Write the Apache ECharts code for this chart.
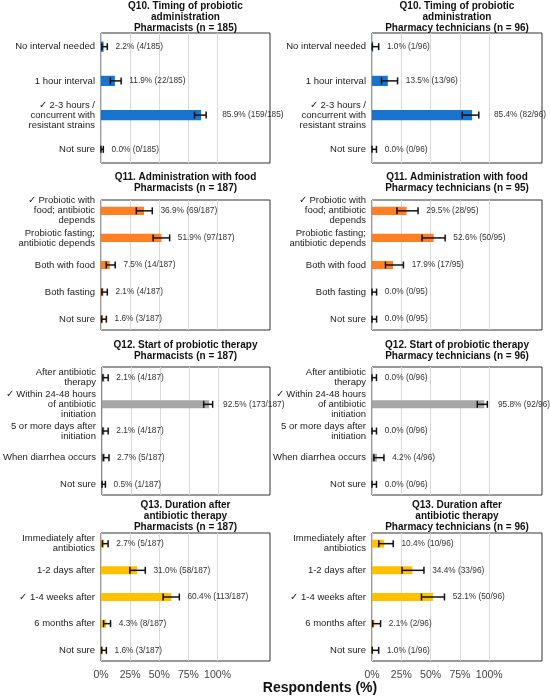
<!DOCTYPE html>
<html>
<head>
<meta charset="utf-8">
<script src="https://cdn.jsdelivr.net/npm/echarts@6/dist/echarts.min.js"></script>
<style>html,body{margin:0;background:#fff}#chart{width:550px;height:699px}</style>
</head>
<body>
<div id="chart"></div>
<script>
// categories
const q10Cats = ['No interval needed', '1 hour interval', '✓ 2-3 hours /\nconcurrent with\nresistant strains', 'Not sure'];
const q11Cats = ['✓ Probiotic with\nfood; antibiotic\ndepends', 'Probiotic fasting;\nantibiotic depends', 'Both with food', 'Both fasting', 'Not sure'];
const q12Cats = ['After antibiotic\ntherapy', '✓ Within 24-48 hours\nof antibiotic\ninitiation', '5 or more days after\ninitiation', 'When diarrhea occurs', 'Not sure'];
const q13Cats = ['Immediately after\nantibiotics', '1-2 days after', '✓ 1-4 weeks after', '6 months after', 'Not sure'];

// percentages, counts, 95% CI bounds
const q10PharmPct = [2.2, 11.9, 85.9, 0.0];
const q10PharmN = [4, 22, 159, 0];
const q10PharmLow = [0.8, 8.0, 80.2, 0];
const q10PharmHigh = [5.4, 17.3, 90.2, 2.0];
const q10TechPct = [1.0, 13.5, 85.4, 0.0];
const q10TechN = [1, 13, 82, 0];
const q10TechLow = [0.2, 8.1, 77.0, 0];
const q10TechHigh = [5.7, 21.8, 91.1, 3.8];

const q11PharmPct = [36.9, 51.9, 7.5, 2.1, 1.6];
const q11PharmN = [69, 97, 14, 4, 3];
const q11PharmLow = [30.3, 44.7, 4.5, 0.8, 0.5];
const q11PharmHigh = [44.0, 58.9, 12.2, 5.4, 4.6];
const q11TechPct = [29.5, 52.6, 17.9, 0.0, 0.0];
const q11TechN = [28, 50, 17, 0, 0];
const q11TechLow = [21.3, 42.7, 11.5, 0, 0];
const q11TechHigh = [39.3, 62.4, 26.8, 3.9, 3.9];

const q12PharmPct = [2.1, 92.5, 2.1, 2.7, 0.5];
const q12PharmN = [4, 173, 4, 5, 1];
const q12PharmLow = [0.8, 87.8, 0.8, 1.2, 0.1];
const q12PharmHigh = [5.4, 95.5, 5.4, 6.1, 3.0];
const q12TechPct = [0.0, 95.8, 0.0, 4.2, 0.0];
const q12TechN = [0, 92, 0, 4, 0];
const q12TechLow = [0, 89.8, 0, 1.6, 0];
const q12TechHigh = [3.8, 98.4, 3.8, 10.2, 3.8];

const q13PharmPct = [2.7, 31.0, 60.4, 4.3, 1.6];
const q13PharmN = [5, 58, 113, 8, 3];
const q13PharmLow = [1.2, 24.8, 53.3, 2.2, 0.5];
const q13PharmHigh = [6.1, 38.0, 67.2, 8.2, 4.6];
const q13TechPct = [10.4, 34.4, 52.1, 2.1, 1.0];
const q13TechN = [10, 33, 50, 2, 1];
const q13TechLow = [5.8, 25.6, 42.2, 0.6, 0.2];
const q13TechHigh = [18.1, 44.3, 61.8, 7.3, 5.7];

const xTicks = [0, 25, 50, 75, 100];

const chart = echarts.init(document.getElementById('chart'));
const font = '"Liberation Sans", Arial, sans-serif';

const panels = [
  {title: 'Q10. Timing of probiotic\nadministration\nPharmacists (n = 185)', cats: q10Cats, pct: q10PharmPct, n: q10PharmN, total: 185, low: q10PharmLow, high: q10PharmHigh, color: '#1874CD'},
  {title: 'Q10. Timing of probiotic\nadministration\nPharmacy technicians (n = 96)', cats: q10Cats, pct: q10TechPct, n: q10TechN, total: 96, low: q10TechLow, high: q10TechHigh, color: '#1874CD'},
  {title: 'Q11. Administration with food\nPharmacists (n = 187)', cats: q11Cats, pct: q11PharmPct, n: q11PharmN, total: 187, low: q11PharmLow, high: q11PharmHigh, color: '#FF7F24'},
  {title: 'Q11. Administration with food\nPharmacy technicians (n = 95)', cats: q11Cats, pct: q11TechPct, n: q11TechN, total: 95, low: q11TechLow, high: q11TechHigh, color: '#FF7F24'},
  {title: 'Q12. Start of probiotic therapy\nPharmacists (n = 187)', cats: q12Cats, pct: q12PharmPct, n: q12PharmN, total: 187, low: q12PharmLow, high: q12PharmHigh, color: '#A6A6A6'},
  {title: 'Q12. Start of probiotic therapy\nPharmacy technicians (n = 96)', cats: q12Cats, pct: q12TechPct, n: q12TechN, total: 96, low: q12TechLow, high: q12TechHigh, color: '#A6A6A6'},
  {title: 'Q13. Duration after\nantibiotic therapy\nPharmacists (n = 187)', cats: q13Cats, pct: q13PharmPct, n: q13PharmN, total: 187, low: q13PharmLow, high: q13PharmHigh, color: '#FFC000'},
  {title: 'Q13. Duration after\nantibiotic therapy\nPharmacy technicians (n = 96)', cats: q13Cats, pct: q13TechPct, n: q13TechN, total: 96, low: q13TechLow, high: q13TechHigh, color: '#FFC000'}
];

// layout
const colLeft = [101, 372];
const colWidth = [169, 170];
const rowTop = [33, 200, 367, 533];
const rowHeight = [130, 130, 128, 128];
const titleTop = [0.5, 172, 340, 500];

const grid = [], xAxis = [], yAxis = [], series = [], graphic = [];

panels.forEach((p, i) => {
  const r = Math.floor(i / 2), c = i % 2;
  grid.push({left: colLeft[c], top: rowTop[r], width: colWidth[c], height: rowHeight[r],
    show: true, borderColor: '#333', borderWidth: 1, backgroundColor: '#fff'});
  xAxis.push({
    gridIndex: i, type: 'value', min: 0, max: 145,
    axisLine: {show: false},
    axisTick: {show: false, customValues: xTicks},
    splitLine: {show: true, lineStyle: {color: '#d9d9d9', width: 1}},
    axisLabel: {show: r === 3, customValues: xTicks, formatter: '{value}%', fontSize: 10.5,
      color: '#444', margin: 9, fontFamily: font}
  });
  yAxis.push({
    gridIndex: i, type: 'value', inverse: true, min: -0.4, max: p.cats.length - 0.6,
    axisLine: {show: false}, axisTick: {show: false}, splitLine: {show: false},
    axisLabel: {customValues: p.cats.map((_, k) => k), formatter: v => p.cats[Math.round(v)],
      fontSize: 9.5, lineHeight: 10, color: '#222', margin: 6, fontFamily: font}
  });
  series.push({
    type: 'custom', xAxisIndex: i, yAxisIndex: i,
    data: p.pct.map((v, k) => [v, k]),
    encode: {x: 0, y: 1},
    renderItem: (params, api) => {
      const s = api.coord([0, api.value(1)]);
      const e = api.coord([api.value(0), api.value(1)]);
      const h = api.size([0, 1])[1] * 0.3;
      return {type: 'rect', shape: {x: s[0], y: s[1] - h / 2, width: e[0] - s[0], height: h},
        style: {fill: p.color}};
    }
  });
  series.push({
    type: 'custom', xAxisIndex: i, yAxisIndex: i,
    data: p.low.map((l, k) => [l, p.high[k], k, p.pct[k].toFixed(1) + '% (' + p.n[k] + '/' + p.total + ')']),
    encode: {x: [0, 1], y: 2},
    z: 3,
    renderItem: (params, api) => {
      const hi = api.value(1);
      const a = api.coord([api.value(0), api.value(2)]);
      const b = api.coord([hi, api.value(2)]);
      // label just past the upper whisker; the large ones sit right of 100%
      const t = api.coord([hi < 80 ? hi + 7 : Math.max(hi + 9, 104), api.value(2)]);
      const cap = 3.5;
      const st = {stroke: '#111', lineWidth: 1.5};
      return {type: 'group', children: [
        {type: 'line', shape: {x1: a[0], y1: a[1], x2: b[0], y2: b[1]}, style: st},
        {type: 'line', shape: {x1: a[0], y1: a[1] - cap, x2: a[0], y2: a[1] + cap}, style: st},
        {type: 'line', shape: {x1: b[0], y1: b[1] - cap, x2: b[0], y2: b[1] + cap}, style: st},
        {type: 'text', x: t[0], y: t[1], style: {text: api.value(3), fill: '#333',
          font: '8.3px ' + font, textAlign: 'left', textVerticalAlign: 'middle'}}
      ]};
    }
  });
  graphic.push({type: 'text', x: colLeft[c] + colWidth[c] / 2, y: titleTop[r],
    style: {text: p.title, textAlign: 'center', textVerticalAlign: 'top', fill: '#111',
      font: 'bold 10px ' + font, lineHeight: 11}});
});

graphic.push({type: 'text', x: 320, y: 688,
  style: {text: 'Respondents (%)', textAlign: 'center', textVerticalAlign: 'middle', fill: '#111',
    font: 'bold 14px ' + font}});

chart.setOption({animation: false, grid, xAxis, yAxis, series, graphic});
</script>
</body>
</html>
